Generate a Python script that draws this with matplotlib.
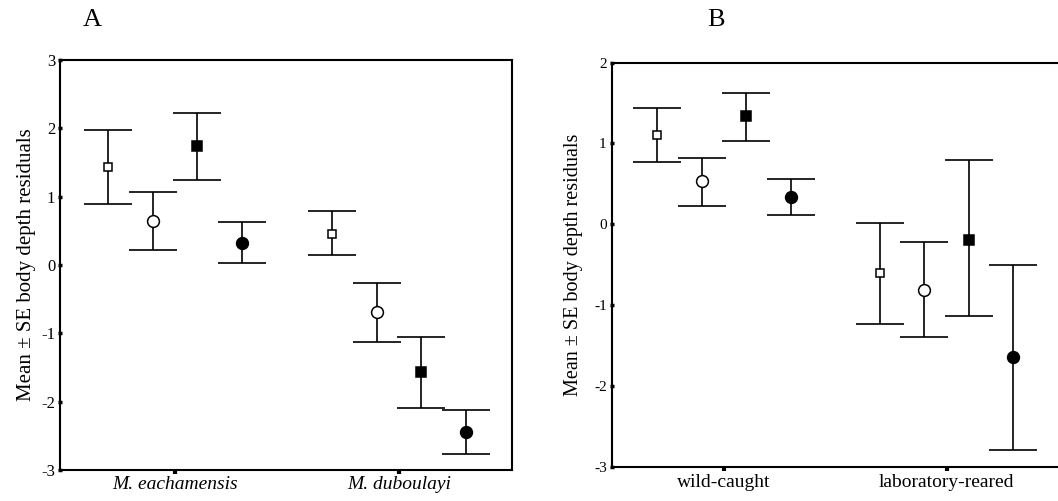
import numpy as np
import matplotlib
matplotlib.use("Agg")
import matplotlib.pyplot as plt

plt.rcParams['font.family'] = ['Liberation Serif', 'DejaVu Serif']
plt.rcParams['axes.unicode_minus'] = False

# panel A: species
species = ["M. eachamensis", "M. duboulayi"]
a_mean = {
    "open_sq":  [1.43, 0.46],
    "open_ci":  [0.65, -0.68],
    "fill_sq":  [1.74, -1.57],
    "fill_ci":  [0.33, -2.45],
}
a_top = {
    "open_sq":  [1.97, 0.79],
    "open_ci":  [1.07, -0.27],
    "fill_sq":  [2.22, -1.05],
    "fill_ci":  [0.63, -2.12],
}
a_bot = {
    "open_sq":  [0.89, 0.14],
    "open_ci":  [0.22, -1.12],
    "fill_sq":  [1.24, -2.09],
    "fill_ci":  [0.03, -2.76],
}

# panel B: origin
origin = ["wild-caught", "laboratory-reared"]
b_mean = {
    "open_sq":  [1.11, -0.60],
    "open_ci":  [0.53, -0.81],
    "fill_sq":  [1.34, -0.19],
    "fill_ci":  [0.34, -1.64],
}
b_top = {
    "open_sq":  [1.44, 0.02],
    "open_ci":  [0.82, -0.22],
    "fill_sq":  [1.62, 0.79],
    "fill_ci":  [0.56, -0.50],
}
b_bot = {
    "open_sq":  [0.77, -1.23],
    "open_ci":  [0.23, -1.39],
    "fill_sq":  [1.03, -1.14],
    "fill_ci":  [0.11, -2.79],
}

series = ["open_sq", "open_ci", "fill_sq", "fill_ci"]
offsets = [-0.3, -0.1, 0.1, 0.3]
styles = {
    "open_sq": dict(marker="s", ms=6, mfc="white"),
    "open_ci": dict(marker="o", ms=8.5, mfc="white"),
    "fill_sq": dict(marker="s", ms=6.5, mfc="black"),
    "fill_ci": dict(marker="o", ms=8.5, mfc="black"),
}


def draw(ax, means, tops, bots):
    x = np.arange(1, 3)
    for s, off in zip(series, offsets):
        m = np.array(means[s])
        err = [m - np.array(bots[s]), np.array(tops[s]) - m]
        ax.errorbar(x + off, m, yerr=err, fmt="none", ecolor="black",
                    elinewidth=1.2, capsize=17, capthick=1.2, zorder=2)
        ax.plot(x + off, m, linestyle="none", mec="black", mew=1.1,
                zorder=3, **styles[s])


fig = plt.figure(figsize=(10.58, 5.01), dpi=100)

ax1 = fig.add_axes([0.0567, 0.0619, 0.4273, 0.8181])
draw(ax1, a_mean, a_top, a_bot)
ax1.set_xlim(0.487, 2.505)
ax1.set_ylim(-3, 3)
ax1.set_yticks(range(-3, 4))
ax1.set_xticks([1, 2])
ax1.set_xticklabels(species, fontstyle="italic", fontsize=14)
ax1.tick_params(axis="y", labelsize=12, length=3, width=2.5, direction="inout", pad=2)
ax1.tick_params(axis="x", length=3, width=3, direction="out", pad=1.5)
ax1.set_ylabel("Mean \u00b1 SE body depth residuals", fontsize=15, labelpad=4)
for sp in ax1.spines.values():
    sp.set_linewidth(1.5)
fig.text(0.087, 0.96, "A", fontsize=19, ha="center", va="center")

ax2 = fig.add_axes([0.578, 0.0685, 0.422, 0.8065])
draw(ax2, b_mean, b_top, b_bot)
ax2.set_xlim(0.494, 2.5)
ax2.set_ylim(-3, 2)
ax2.set_yticks(range(-3, 3))
ax2.set_xticks([1, 2])
ax2.set_xticklabels(origin, fontsize=14)
ax2.tick_params(axis="y", labelsize=11, length=3, width=2.5, direction="inout", pad=2)
ax2.tick_params(axis="x", length=3, width=3, direction="out", pad=2)
ax2.set_ylabel("Mean \u00b1 SE body depth residuals", fontsize=14.5, labelpad=8)
ax2.spines["right"].set_visible(False)
for sp in ax2.spines.values():
    sp.set_linewidth(1.5)
fig.text(0.677, 0.96, "B", fontsize=19, ha="center", va="center")

fig.savefig("out.png", dpi=100)
